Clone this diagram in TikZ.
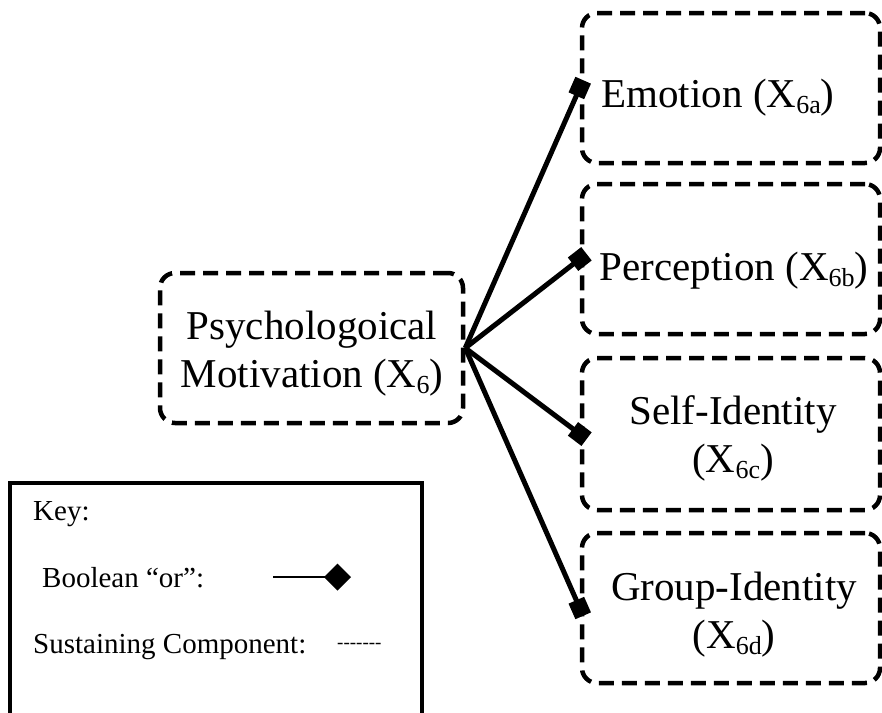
\documentclass[tikz,border=0pt]{standalone}
\usepackage{fontspec}
\setmainfont{Liberation Serif}
\usetikzlibrary{arrows.meta}

% text sizes
\newcommand{\mainsize}{\fontsize{41}{48}\selectfont}
\newcommand{\keysize}{\fontsize{29}{34}\selectfont}
% lowered index in a smaller size
\newcommand{\idx}[1]{\raisebox{-0.15em}{\fontsize{26}{26}\selectfont #1}}

\begin{document}
\begin{tikzpicture}[x=1pt,y=-1pt,
  comp/.style={draw, line width=4.5pt, dash pattern=on 15pt off 8pt,
               rounded corners=15pt, inner sep=0pt},
  orlink/.style={line width=5pt},
  ormark/.style={fill, minimum size=17pt, inner sep=0pt, sloped, pos=1},
  lbl/.style={inner sep=0pt, anchor=base, font=\mainsize, align=center},
  keytext/.style={inner sep=0pt, anchor=base west, font=\keysize}]
\useasboundingbox (0,0) rectangle (882,712);

% factor and its sustaining components
\node[comp, minimum width=303pt, minimum height=150pt] (psy)  at (311.5,348) {};
\node[comp, minimum width=298pt, minimum height=150pt] (emo)  at (731,88)  {};
\node[comp, minimum width=298pt, minimum height=150pt] (per)  at (731,259) {};
\node[comp, minimum width=298pt, minimum height=152pt] (self) at (731,434) {};
\node[comp, minimum width=298pt, minimum height=150pt] (grp)  at (731,608) {};

% labels, placed on the baseline of their last line
\node[lbl] (psyl)  at (312,387) {Psychologoical\\Motivation (X\idx{6})};
\node[lbl] (emol)  at (718,107) {Emotion (X\idx{6a})};
\node[lbl] (perl)  at (734,280) {Perception (X\idx{6b})};
\node[lbl] (selfl) at (733,472) {Self-Identity\\(X\idx{6c})};
\node[lbl] (grpl)  at (734,648) {Group-Identity\\(X\idx{6d})};

% boolean "or" links, each ending in a square on the component's border
\draw[orlink] (psy.east) -- (emo.west)  node[ormark] (m1) {};
\draw[orlink] (psy.east) -- (per.west)  node[ormark] (m2) {};
\draw[orlink] (psy.east) -- (self.west) node[ormark] (m3) {};
\draw[orlink] (psy.east) -- (grp.west)  node[ormark] (m4) {};

% key
\node[draw, line width=4pt, minimum width=412pt, minimum height=240pt, inner sep=0pt] (key) at (216,603) {};
\node[keytext] (keyt) at (33,520) {Key:};
\node[keytext] (bool) at (42,587) {Boolean “or”:};
\node[keytext] (sust) at (33,653) {Sustaining Component:};
\node[keytext, font=\fontsize{19}{22}\selectfont] (dashes) at (337,648)
  {-\kern0pt-\kern0pt-\kern0pt-\kern0pt-\kern0pt-\kern0pt-};
\coordinate (orA) at (273,577);
\coordinate (orB) at (351,577);
\draw[line width=2pt, -{Diamond[length=27pt 0,width=27pt 0]}] (orA) -- (orB);
\end{tikzpicture}
\end{document}
